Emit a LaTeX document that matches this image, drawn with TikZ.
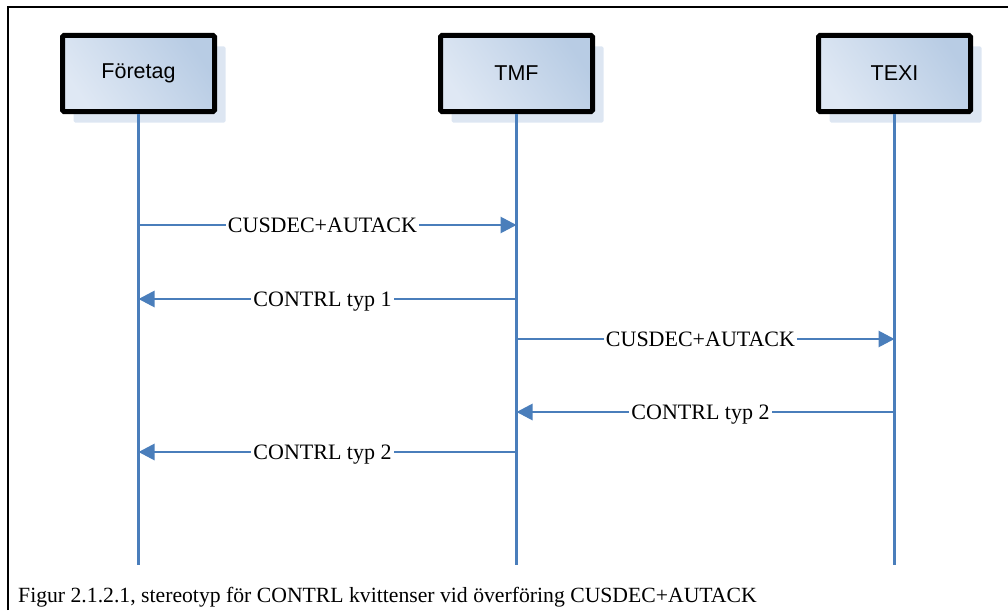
\documentclass[tikz,border=0pt]{standalone}
\usepackage{fontspec}
\setmainfont{Liberation Serif}
\setsansfont{Liberation Sans}
\usetikzlibrary{arrows.meta, positioning, shadows}

\definecolor{lifeblue}{HTML}{4A7EBB}
\definecolor{boxlight}{HTML}{DFE8F4}
\definecolor{boxdark}{HTML}{B8CCE4}
\definecolor{shadowblue}{HTML}{DDE6F2}

\tikzset{
  actor/.style   = {draw=black, line width=5pt, rounded corners=1.5pt,
                    minimum width=152pt, minimum height=76pt,
                    shading=axis, left color=boxlight, right color=boxdark, shading angle=125,
                    general shadow={fill=shadowblue, shadow xshift=11pt, shadow yshift=-11pt},
                    font=\sffamily\fontsize{21.5}{25}\selectfont},
  lifeline/.style = {draw=lifeblue, line width=2.8pt},
  msg/.style     = {draw=lifeblue, line width=2.8pt, -{Triangle[length=16pt, width=16pt]}},
  msglabel/.style = {fill=white, inner sep=2pt, text height=14pt, text depth=0pt,
                    xshift=-5pt, font=\fontsize{22}{26}\selectfont},
}

\begin{document}
\begin{tikzpicture}[x=1pt, y=-1pt, node distance = 378pt, on grid]
  \useasboundingbox (0,0) rectangle (1008,610);
  % frame
  \draw[line width=2pt] (8,610) -- (8,7) -- (1008,7);

  % Participants
  \node[actor] (foretag) at (138.5,73.5) {Företag};
  \node[actor] (tmf)  [right=of foretag] {TMF};
  \node[actor] (texi) [right=of tmf]     {TEXI};

  % Lifeline ends
  \coordinate (fEnd) at (foretag |- 0,565);
  \coordinate (mEnd) at (tmf |- 0,565);
  \coordinate (xEnd) at (texi |- 0,565);

  \draw[lifeline] (foretag) -- (fEnd);
  \draw[lifeline] (tmf) -- (mEnd);
  \draw[lifeline] (texi) -- (xEnd);

  % Message points
  \coordinate (f1) at (foretag |- 0,225);
  \coordinate (m1) at (tmf |- 0,225);
  \coordinate (f2) at (foretag |- 0,299);
  \coordinate (m2) at (tmf |- 0,299);
  \coordinate (m3) at (tmf |- 0,339);
  \coordinate (x3) at (texi |- 0,339);
  \coordinate (m4) at (tmf |- 0,412);
  \coordinate (x4) at (texi |- 0,412);
  \coordinate (f5) at (foretag |- 0,452);
  \coordinate (m5) at (tmf |- 0,452);

  % Messages
  \draw[msg] (f1) -- node[msglabel] {CUSDEC+AUTACK} (m1);
  \draw[msg] (m2) -- node[msglabel] {CONTRL typ 1}  (f2);
  \draw[msg] (m3) -- node[msglabel] {CUSDEC+AUTACK} (x3);
  \draw[msg] (x4) -- node[msglabel] {CONTRL typ 2}  (m4);
  \draw[msg] (m5) -- node[msglabel] {CONTRL typ 2}  (f5);

  % Caption
  \node[anchor=base west, inner sep=0pt, font=\fontsize{21.7}{25}\selectfont] (caption) at (18,602)
    {Figur 2.1.2.1, stereotyp för CONTRL kvittenser vid överföring CUSDEC+AUTACK};
\end{tikzpicture}
\end{document}
